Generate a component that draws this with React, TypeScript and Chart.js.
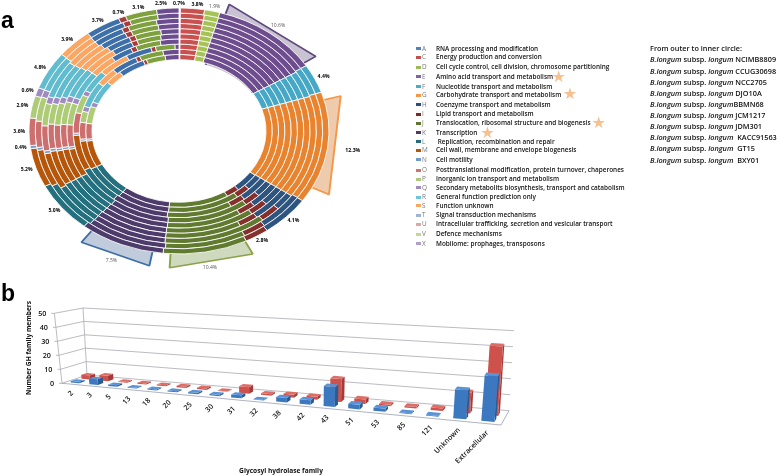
import React, { useEffect, useRef } from "react";
import { Chart, registerables } from "chart.js";

Chart.register(...registerables);

// ---------- panel a: COG categories ----------
const cogCodes = ["A","C","D","E","F","G","H","I","J","K","L","M","N","O","P","Q","R","S","T","U","V","X"];
const cogNames = [
  "RNA processing and modification",
  "Energy production and conversion",
  "Cell cycle control, cell division, chromosome partitioning",
  "Amino acid transport and metabolism",
  "Nucleotide transport and metabolism",
  "Carbohydrate transport and metabolism",
  "Coenzyme transport and metabolism",
  "Lipid transport and metabolism",
  "Translocation, ribosomal structure and biogenesis",
  "Transcription",
  " Replication, recombination and repair",
  "Cell wall, membrane and envelope biogenesis",
  "Cell motility",
  "Posttranslational modification, protein turnover, chaperones",
  "Inorganic ion transport and metabolism",
  "Secondary metabolits biosynthesis, transport and catabolism",
  "General function prediction only",
  "Function unknown",
  "Signal transduction mechanisms",
  "Intracellular trafficking, secretion and vesicular transport",
  "Defence mechanisms",
  "Mobilome: prophages, transposons",
];
const cogColors = ["#ffffff","#c8504e","#a5c255","#6e4d8f","#46a8c6","#e8842f","#2d5580","#85302c","#607a30","#4d3b6b","#25707f","#b5560a","#7aa0c8","#cc6f6f","#aecb78","#a08bc0","#62bcd0","#fba663","#3f6fa8","#a83c3c","#7ea03e","#6b4c8e"];
const legendSwatches = ["#4f81bd","#c0504d","#9bbb59","#8064a2","#4bacc6","#f79646","#2c4d75","#772c2a","#5f7530","#4d3b62","#276a7c","#b65708","#729aca","#cd7371","#afc97a","#a18cbd","#6ec4db","#fba55f","#9db4d4","#d9a9a8","#c3d69b","#b2a1c7"];
const pctLabels = ["0.7%","3.8%","1.9%","10.6%","4.4%","12.3%","4.1%","2.8%","10.4%","7.5%","5.0%","5.2%","0.4%","3.6%","2.9%","0.6%","4.8%","3.9%","3.7%","0.7%","3.1%","2.5%"];
const strainNames = [" NCIMB8809"," CCUG30698"," NCC2705"," DJO10A","BBMN68"," JCM1217"," JDM301","  KACC91563","  GT15","  BXY01"];

// share of each category per genome, outer ring first
const ringNCIMB8809 = [0.15,2.6,1.65,11.7,3.8,14.7,5.4,2.6,9.1,9.2,6.7,5.1,0.4,3.6,2.9,1.1,5,3.9,3.8,0.8,3.4,2.4];
const ringCCUG30698 = [0.15,2.7,1.6,11.7,3.8,14.7,5.3,2.6,9.1,9.1,6.7,5.1,0.4,3.6,3.3,1,5,3.9,4.1,0.8,3.2,2.4];
const ringNCC2705 = [0.15,2.7,1.6,11.8,3.8,14.7,2.4,2.4,12.1,8.9,6,5.2,0.4,3.6,3.2,1,5.4,4.2,3.6,0.8,3.4,2.65];
const ringDJO10A = [0.15,2.7,1.6,11.8,3.8,14.7,5.1,2.4,9.4,8.9,6.2,5.2,0.4,3.7,3.1,1,5.3,4.4,3.4,0.8,3.4,2.55];
const ringBBMN68 = [0.15,2.7,1.6,11.8,3.8,14.7,2.9,2.4,11.6,8.8,6.3,5.1,0.4,3.7,3.5,1,5.2,4.6,3.2,0.8,3.4,2.35];
const ringJCM1217 = [0.15,2.7,1.6,11.8,3.8,14.7,4.25,2.4,10.2,8.8,6.4,5.1,0.4,3.8,3.8,1,5,4.6,2.9,0.8,3.3,2.5];
const ringJDM301 = [0.15,2.7,1.6,11.8,3.8,14.7,2.65,2.4,11.8,8.7,6.5,5,0.4,3.9,3.8,1,5,3.9,3.1,0.8,3.6,2.7];
const ringKACC91563 = [0.15,2.7,1.6,11.8,3.8,14.7,4.65,2.4,10,8.8,7,6.6,0.4,3.8,3.4,0.9,4.2,4.8,4,0.7,3,0.6];
const ringGT15 = [0.15,2.7,1.6,11.8,3.8,14.7,2.85,2.4,11.7,8.6,7,5.7,0.4,3.3,2.2,1,5.1,3.5,4.3,0.7,3.9,2.6];
const ringBXY01 = [0.15,2.7,1.6,11.8,3.8,14.75,4.2,2.3,10.4,8.6,7,5.6,0.4,3.3,3.6,1,4.8,3,4.7,0.6,3.3,2.4];
const ringSeries = [ringNCIMB8809,ringCCUG30698,ringNCC2705,ringDJO10A,ringBBMN68,ringJCM1217,ringJDM301,ringKACC91563,ringGT15,ringBXY01];

// highlighted wedges behind the rings (E, G, J, K) with the gaps between them
const panelShares = [4.9,10.5,5.16,11.94,10.17,8.23,1.96,7.14,40];
const panelFills = ["rgba(0,0,0,0)","rgba(110,95,140,0.38)","rgba(0,0,0,0)","rgba(225,160,105,0.55)","rgba(0,0,0,0)","rgba(130,155,85,0.38)","rgba(0,0,0,0)","rgba(70,105,150,0.34)","rgba(0,0,0,0)"];
const panelEdges = ["rgba(0,0,0,0)","#5e4a80","rgba(0,0,0,0)","#f79646","rgba(0,0,0,0)","#8aa34a","rgba(0,0,0,0)","#3f6fa8","rgba(0,0,0,0)"];
const panelOffsets = [0,0,0,5,0,0,0,0,0];

const highlightedLabelRadius: Record<string, number> = { E: 1.1, G: 1.17, J: 1.155, K: 1.17 };
const labelAngleNudge: Record<string, number> = { C: 1.4, X: -2.2, A: -0.3 };
const greyLabels = ["D", "E", "J", "K"];

// ---------- panel b: glycosyl hydrolases ----------
const ghFamilies = ["2","3","5","13","18","20","25","30","31","32","38","42","43","51","53","85","121","Unknown","Extracellular"];
const ghFront = [1,4,1,0.5,0.7,0.7,1,1,2,0.3,3,3,13,3,2,0.5,0.5,18,28];
const ghBack = [3,4,0.7,0.7,0.7,1,1,0.3,4.5,1,2,2,15,3,1,1,1.5,13,43];

const squash = {
  id: "squash",
  beforeDatasetsDraw(chart: any, _a: any, o: any) {
    const r = chart.getDatasetMeta(0).controller.outerRadius;
    const cx = (chart.chartArea.left + chart.chartArea.right) / 2;
    const cy = (chart.chartArea.top + chart.chartArea.bottom) / 2;
    const c = chart.ctx;
    c.save();
    c.translate(cx, cy);
    c.scale(o.rx / r, o.ry / r);
    c.translate(-cx, -cy);
    if (o.hole) {
      c.beginPath();
      c.rect(-2000, -2000, 4000, 4000);
      c.arc(cx, cy, r * o.hole, 0, Math.PI * 2);
      c.clip("evenodd");
    }
  },
  afterDatasetsDraw(chart: any) {
    chart.ctx.restore();
  },
};

const ringLabels = {
  id: "ringLabels",
  afterDatasetsDraw(chart: any, _a: any, o: any) {
    const c = chart.ctx;
    const cx = (chart.chartArea.left + chart.chartArea.right) / 2;
    const cy = (chart.chartArea.top + chart.chartArea.bottom) / 2;
    c.save();
    c.textAlign = "center";
    c.textBaseline = "middle";
    chart.getDatasetMeta(0).data.forEach((el: any, i: number) => {
      const code = cogCodes[i];
      const mid = (el.startAngle + el.endAngle) / 2 + ((labelAngleNudge[code] ?? 0) * Math.PI) / 180;
      const f = highlightedLabelRadius[code] ?? 1.065;
      const grey = greyLabels.includes(code);
      c.font = `${grey ? 400 : 700} 5.1px "Open Sans"`;
      c.fillStyle = grey ? "#555" : "#000";
      c.fillText(pctLabels[i], cx + o.rx * f * Math.cos(mid), cy + o.ry * f * Math.sin(mid));
    });
    c.restore();
  },
};

// corners of the drawn floor and the lean of the walls, in page pixels
const FL = [62, 383.3], FR = [501, 425], BL = [87, 375], BR = [509, 410.7];
const UFL = [-7.6, -70], UFR = [7, -82], UBL = [-4, -67], UBR = [5, -80];
const DEPTH = 1.265;
const FRONT_ROW: [number, number] = [0.16, 0.38];
const BACK_ROW: [number, number] = [0.59, 0.81];
const rowColors = [
  { front: "#3b78bf", side: "#2a5c94", top: "#5a94d6" },
  { front: "#cf514c", side: "#a33c38", top: "#dc6e68" },
];

const bil = (a: number[], b: number[], c: number[], d: number[], t: number, v: number, k: number) =>
  (a[k] * (1 - t) + b[k] * t) * (1 - v) + (c[k] * (1 - t) + d[k] * t) * v;
const project = (u: number, v: number, h: number): [number, number] => {
  const t = u / (u + DEPTH * (1 - u));
  return [
    bil(FL, FR, BL, BR, t, v, 0) + (bil(UFL, UFR, UBL, UBR, t, v, 0) * h) / 50,
    bil(FL, FR, BL, BR, t, v, 1) + (bil(UFL, UFR, UBL, UBR, t, v, 1) * h) / 50,
  ];
};
const poly = (c: CanvasRenderingContext2D, pts: [number, number][], fill: string) => {
  c.beginPath();
  pts.forEach((p, i) => (i ? c.lineTo(p[0], p[1]) : c.moveTo(p[0], p[1])));
  c.closePath();
  c.fillStyle = fill;
  c.fill();
};
const line = (c: CanvasRenderingContext2D, a: [number, number], b: [number, number]) => {
  c.beginPath();
  c.moveTo(a[0], a[1]);
  c.lineTo(b[0], b[1]);
  c.stroke();
};

const perspective = {
  id: "perspective",
  beforeDatasetsDraw(chart: any) {
    const c = chart.ctx;
    const y = chart.scales.y;
    c.save();
    c.lineWidth = 0.8;
    c.strokeStyle = "#a9a9b4";
    y.ticks.forEach((tick: any) => {
      const h = tick.value;
      const a = project(0, 0, h), b = project(0, 1, h), d = project(1, 1, h);
      line(c, a, b);
      line(c, b, d);
      line(c, [a[0] - 3, a[1]], a);
      c.fillStyle = "#111";
      c.font = '600 7.2px "Open Sans"';
      c.textAlign = "right";
      c.textBaseline = "middle";
      c.fillText(String(h), a[0] - 8, a[1] + 0.5);
    });
    line(c, project(0, 0, 0), project(0, 0, 50));
    line(c, project(0, 1, 0), project(0, 1, 50));
    c.strokeStyle = "#9aa0b4";
    line(c, project(0, 0, 0), project(1, 0, 0));
    line(c, project(1, 0, 0), project(1, 1, 0));
    c.restore();
  },
  beforeDatasetDraw(chart: any, args: any) {
    const c = chart.ctx;
    const area = chart.chartArea;
    const y = chart.scales.y;
    const row = args.index === 0 ? FRONT_ROW : BACK_ROW;
    const col = rowColors[args.index];
    args.meta.data.forEach((el: any) => {
      const mid = (el.x - area.left) / area.width;
      const half = el.width / 2 / area.width;
      const u0 = mid - half, u1 = mid + half;
      const h = y.getValueForPixel(el.y);
      const [v0, v1] = row;
      poly(c, [project(u1, v0, 0), project(u1, v1, 0), project(u1, v1, h), project(u1, v0, h)], col.side);
      poly(c, [project(u0, v0, 0), project(u1, v0, 0), project(u1, v0, h), project(u0, v0, h)], col.front);
      poly(c, [project(u0, v0, h), project(u1, v0, h), project(u1, v1, h), project(u0, v1, h)], col.top);
    });
    return false;
  },
  afterDatasetsDraw(chart: any) {
    const c = chart.ctx;
    const area = chart.chartArea;
    const x = chart.scales.x;
    c.save();
    c.fillStyle = "#111";
    c.font = '600 7.2px "Open Sans"';
    ghFamilies.forEach((name, i) => {
      const u = (x.getPixelForValue(i) - area.left) / area.width;
      const p = project(u, 0, 0);
      c.save();
      c.translate(p[0] + 1, p[1] + 8);
      c.rotate(-Math.PI / 4);
      c.textAlign = "right";
      c.textBaseline = "middle";
      c.fillText(name, 0, 0);
      c.restore();
    });
    c.font = '700 6.6px "Open Sans"';
    c.textAlign = "center";
    c.textBaseline = "middle";
    c.fillText("Glycosyl hydrolase family", 281, 471);
    c.save();
    c.translate(28.7, 348);
    c.rotate(-Math.PI / 2);
    c.fillText("Number GH family members", 0, 0);
    c.restore();
    c.restore();
  },
};

const fullPage: React.CSSProperties = { position: "absolute", left: 0, top: 0 };
const legendRows = [48.7,57.3,67.3,76.7,86.7,95,104.7,114,123,132.7,141.7,150.3,159.7,170.3,179,187.7,197,205.7,215,224.3,234.3,243.7];
const strainRows = [59.3,70.7,82,93.3,104,115.3,126,137.3,148.3,160];
const starAt = [[558.7,77.3],[570,94.3],[598.7,122.7],[487.3,132.7]];

export default function App() {
  const panelRef = useRef<HTMLCanvasElement>(null);
  const ringRef = useRef<HTMLCanvasElement>(null);
  const barRef = useRef<HTMLCanvasElement>(null);

  useEffect(() => {
    const common = {
      responsive: false,
      animation: false as const,
      devicePixelRatio: 1,
      events: [] as string[],
    };
    const panels = new Chart(panelRef.current!, {
      type: "doughnut",
      data: {
        labels: panelShares.map((_, i) => String(i)),
        datasets: [{ data: panelShares, backgroundColor: panelFills, borderColor: panelEdges, borderWidth: 1.5, offset: panelOffsets, clip: false } as any],
      },
      options: {
        ...common,
        layout: { padding: { left: 0, top: 0, right: 419, bottom: 209 } },
        cutout: "52%",
        elements: { arc: { circular: false } as any },
        plugins: { legend: { display: false }, tooltip: { enabled: false }, squash: { rx: 166, ry: 135, hole: 0.53 } } as any,
      },
      plugins: [squash],
    } as any);
    const ring = new Chart(ringRef.current!, {
      type: "doughnut",
      data: {
        labels: cogCodes,
        datasets: ringSeries.map((values, i) => ({
          label: strainNames[i].trim(),
          data: values,
          backgroundColor: cogColors,
          borderColor: "#ffffff",
          borderWidth: 0.8,
          clip: false,
        })) as any,
      },
      options: {
        ...common,
        layout: { padding: { left: 0, top: 0, right: 419, bottom: 213 } },
        cutout: "58%",
        plugins: { legend: { display: false }, tooltip: { enabled: false }, squash: { rx: 150, ry: 123 }, ringLabels: { rx: 150, ry: 120 } } as any,
      },
      plugins: [squash, ringLabels],
    } as any);
    const bars = new Chart(barRef.current!, {
      type: "bar",
      data: {
        labels: ghFamilies,
        datasets: [
          { label: "front", data: ghFront, backgroundColor: rowColors[0].front, grouped: false, barPercentage: 0.46, categoryPercentage: 1 },
          { label: "back", data: ghBack, backgroundColor: rowColors[1].front, grouped: false, barPercentage: 0.46, categoryPercentage: 1 },
        ] as any,
      },
      options: {
        responsive: false,
        animation: false,
        devicePixelRatio: 1,
        events: [],
        scales: {
          x: { display: false },
          y: { display: false, min: 0, max: 50, ticks: { stepSize: 10 } },
        },
        plugins: { legend: { display: false }, tooltip: { enabled: false } },
      },
      plugins: [perspective],
    } as any);
    return () => {
      panels.destroy();
      ring.destroy();
      bars.destroy();
    };
  }, []);

  const legendFont: React.CSSProperties = { position: "absolute", whiteSpace: "pre", fontFamily: '"Open Sans"', fontWeight: 600, fontSize: 6.4, lineHeight: "8px", color: "#111", transform: "translateY(-4px)" };
  const strainFont: React.CSSProperties = { ...legendFont, fontSize: 7.3 };
  const letter: React.CSSProperties = { position: "absolute", left: 1, fontFamily: '"Liberation Sans"', fontWeight: 700, fontSize: 23, lineHeight: "24px", color: "#000" };

  return (
    <div style={{ position: "absolute", left: 0, top: 0, width: 777, height: 475, overflow: "hidden", background: "#fff", filter: "blur(0.35px)" }}>
      <canvas ref={panelRef} width={777} height={475} style={fullPage} />
      <canvas ref={ringRef} width={777} height={475} style={fullPage} />
      <canvas ref={barRef} width={777} height={475} style={fullPage} />
      <div style={{ ...letter, top: 8 }}>a</div>
      <div style={{ ...letter, top: 281 }}>b</div>
      {cogCodes.map((code, i) => (
        <React.Fragment key={code}>
          <div style={{ position: "absolute", left: 416, top: legendRows[i] - 1.5, width: 4.5, height: 3, background: legendSwatches[i] }} />
          <div style={{ ...legendFont, left: 422, top: legendRows[i], color: "#777", fontWeight: 400 }}>{code}</div>
          <div style={{ ...legendFont, left: 436, top: legendRows[i] }}>{cogNames[i]}</div>
        </React.Fragment>
      ))}
      {starAt.map(([x, y], i) => (
        <div key={i} style={{ position: "absolute", left: x - 9, top: y - 9, width: 18, height: 18, lineHeight: "18px", textAlign: "center", fontFamily: '"DejaVu Sans"', fontSize: 16, color: "#f6c08f" }}>★</div>
      ))}
      <div style={{ ...strainFont, left: 650, top: 48 }}>From outer to inner circle:</div>
      {strainNames.map((name, i) => (
        <div key={name} style={{ ...strainFont, left: 650, top: strainRows[i] }}>
          <i>B.longum</i> subsp. <i>longum</i>{name}
        </div>
      ))}
    </div>
  );
}
